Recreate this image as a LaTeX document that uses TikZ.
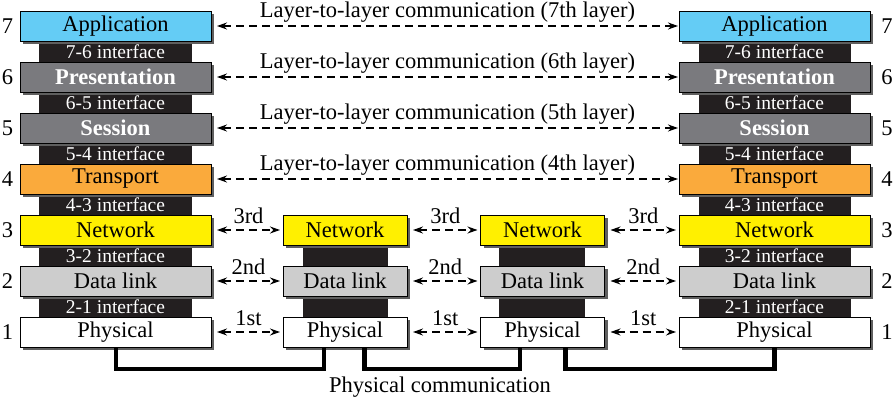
\documentclass[tikz,border=0pt]{standalone}
\usepackage{fontspec}
\setmainfont{Liberation Serif}
\usetikzlibrary{shadows,arrows.meta,calc}
\definecolor{appc}{RGB}{100,204,245}
\definecolor{presc}{RGB}{122,122,126}
\definecolor{trc}{RGB}{250,170,60}
\definecolor{netc}{RGB}{255,240,0}
\definecolor{dlc}{RGB}{205,205,205}
\definecolor{colc}{RGB}{35,31,32}
\definecolor{shadowc}{RGB}{95,95,95}
\tikzset{
  layerbox/.style={draw=black, line width=0.8pt, inner sep=0pt, outer sep=0pt,
    minimum height=30pt, font=\fontsize{22.5}{27}\selectfont,
    drop shadow={shadow xshift=3pt, shadow yshift=-3pt, fill=shadowc, opacity=1}},
  stackbox/.style={layerbox, minimum width=191pt},
  routerbox/.style={layerbox, minimum width=124pt},
  iface/.style={text=white, font=\fontsize{19.5}{23}\selectfont, inner sep=0pt},
  lbl/.style={font=\fontsize{22.5}{27}\selectfont, inner sep=1pt},
  arr/.style={dash pattern=on 8pt off 5pt, line width=1.2pt,
    {Stealth[length=10pt,width=7pt]}-{Stealth[length=10pt,width=7pt]}},
  cable/.style={line width=4.5pt, line join=miter},
}
\begin{document}
\begin{tikzpicture}[x=1pt,y=-1pt]
\useasboundingbox (0,0) rectangle (894,403);
% black interface columns
\fill[colc] (39,26) rectangle (192,332);
\fill[colc] (699,26) rectangle (851,332);
\fill[colc] (303,230) rectangle (388,332);
\fill[colc] (499,230) rectangle (585,332);
% stack boxes
\foreach \k/\t/\c/\tc in {7/Application/appc/black,6/\textbf{Presentation}/presc/white,5/\textbf{Session}/presc/white,4/Transport/trc/black,3/Network/netc/black,2/Data link/dlc/black,1/Physical/white/black}{
  \pgfmathsetmacro\yy{26+(7-\k)*51}
  \node[stackbox,fill=\c,text=\tc] (L\k) at (115.5,\yy) {\t};
  \node[stackbox,fill=\c,text=\tc] (R\k) at (774.5,\yy) {\t};
  \node[lbl] (NL\k) at (7.5,\yy) {\k};
  \node[lbl] (NR\k) at (887,\yy) {\k};
}
% router boxes
\foreach \k/\t/\c in {3/Network/netc,2/Data link/dlc,1/Physical/white}{
  \pgfmathsetmacro\yy{26+(7-\k)*51}
  \node[routerbox,fill=\c] (A\k) at (345,\yy) {\t};
  \node[routerbox,fill=\c] (B\k) at (542.5,\yy) {\t};
}
% interface labels
\foreach \k/\j in {7/6,6/5,5/4,4/3,3/2,2/1}{
  \pgfmathsetmacro\yy{26+(7-\k)*51+25.5}
  \node[iface] (IL\k) at (115.5,\yy) {\k-\j\ interface};
  \node[iface] (IR\k) at (774.5,\yy) {\k-\j\ interface};
}
% layer-to-layer communication
\foreach \k/\o in {7/7th,6/6th,5/5th,4/4th}{
  \draw[arr] ([xshift=6pt]L\k.east) -- node[lbl,above=2pt] (T\k) {Layer-to-layer communication (\o\ layer)} ([xshift=-1pt]R\k.west);
}
% hop-to-hop
\foreach \k/\o in {3/3rd,2/2nd,1/1st}{
  \draw[arr] ([xshift=6pt]L\k.east) -- node[lbl,above=5pt] (HA\k) {\o} ([xshift=-3pt]A\k.west);
  \draw[arr] ([xshift=6pt]A\k.east) -- node[lbl,above=5pt] (HB\k) {\o} ([xshift=-3pt]B\k.west);
  \draw[arr] ([xshift=6pt]B\k.east) -- node[lbl,above=5pt] (HC\k) {\o} ([xshift=-3pt]R\k.west);
}
% physical cables
\draw[cable] ([xshift=0.5pt]L1.south) -- ([xshift=0.5pt]L1.south |- 0,369) -| ([xshift=-21pt]A1.south);
\draw[cable] ([xshift=19.5pt]A1.south) -- ([xshift=19.5pt]A1.south |- 0,369) -| ([xshift=-22.5pt]B1.south);
\draw[cable] ([xshift=23pt]B1.south) -- ([xshift=23pt]B1.south |- 0,369) -| (R1.south);
\node[lbl] (PC) at (440,387) {Physical communication};
\end{tikzpicture}
\end{document}
